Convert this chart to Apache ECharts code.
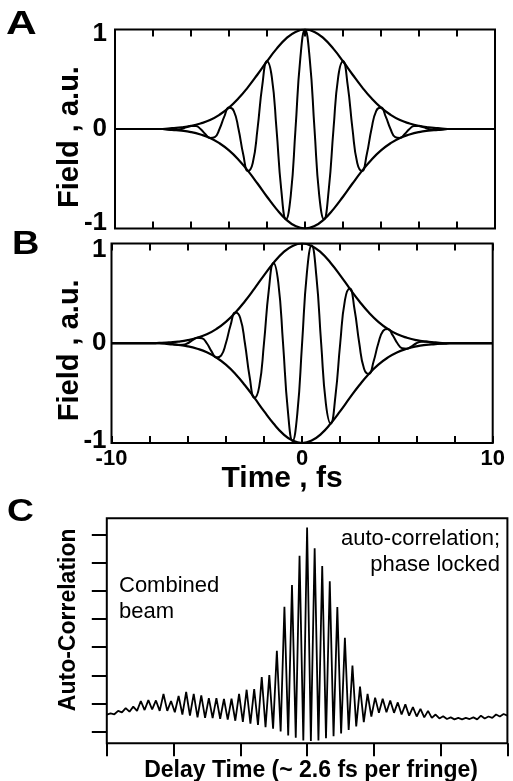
<!DOCTYPE html>
<html><head><meta charset="utf-8">
<script src="https://cdn.jsdelivr.net/npm/echarts@6/dist/echarts.min.js"></script>
<style>html,body{margin:0;padding:0;background:#fff}#c{width:513px;height:781px}</style>
</head><body><div id="c"></div>
<script>
// ---- data ----
// sample grid of the field traces (fs)
const timeStart = -10, timeStep = 0.25, envStep = 0.5;
// Gaussian envelope |E| sampled every 0.5 fs from -10 to 10
const envelope = [0,0,0,0,0,0,0.009,0.017,0.031,0.055,0.090,0.143,0.215,0.308,0.421,0.548,0.681,0.805,0.908,0.976,
  1,
  0.976,0.908,0.805,0.681,0.548,0.421,0.308,0.215,0.143,0.090,0.055,0.031,0.017,0.009,0,0,0,0,0,0];
// Panel A field (cosine-like pulse), every 0.25 fs from -10 to 10
const fieldA = [0,0,0,0,0,0,0,0,0,0,
  0,-0.004,-0.009,-0.009,0,0.016,0.031,0.030,0,-0.050,-0.090,-0.081,0,0.124,0.215,0.183,0,-0.256,-0.421,-0.341,
  0,0.435,0.681,0.527,0,-0.609,-0.908,-0.670,0,0.703,
  1,
  0.703,0,-0.670,-0.908,-0.609,0,0.527,0.681,0.435,0,
  -0.341,-0.421,-0.256,0,0.183,0.215,0.124,0,-0.081,-0.090,-0.050,0,0.030,0.031,0.016,0,-0.009,-0.009,-0.004,0,
  0,0,0,0,0,0,0,0,0,0];
// Panel B field (sine-like pulse), every 0.25 fs from -10 to 10
const fieldB = [0,0,0,0,0,0,0,0,0,0,
  0.004,0.004,0,-0.009,-0.017,-0.016,0,0.030,0.055,0.050,0,-0.081,-0.143,-0.124,0,0.183,0.308,0.256,0,-0.341,
  -0.548,-0.435,0,0.527,0.805,0.609,0,-0.670,-0.98,-0.703,
  0,
  0.703,0.98,0.670,0,-0.609,-0.805,-0.527,0,0.435,0.548,
  0.341,0,-0.256,-0.308,-0.183,0,0.124,0.143,0.081,0,-0.050,-0.055,-0.030,0,0.016,0.017,0.009,0,-0.004,-0.004,
  0,0,0,0,0,0,0,0,0,0];
// Panel C: fringe maxima (53) and minima (54), in tick units, left to right
const fringePeaks = [0.66,0.75,0.85,0.9,1.1,1.13,1.12,1.35,1.1,1.28,1.42,1.35,1.3,1.2,1.2,1.17,1.18,1.35,1.5,1.52,
  1.95,2.02,2.88,4.44,5.21,6.25,
  7.25,
  6.52,5.89,5.35,4.43,3.34,2.36,1.61,1.35,1.22,1.18,1.12,1.05,0.98,0.88,0.82,0.75,0.62,0.56,0.52,0.5,0.5,0.52,0.58,0.55,0.62,0.64];
const fringeTroughs = [0.62,0.63,0.7,0.72,0.75,0.78,0.8,0.75,0.75,0.7,0.62,0.58,0.52,0.5,0.49,0.47,0.44,0.4,0.36,0.3,
  0.25,0.17,0.12,0.02,-0.12,-0.2,-0.3,
  -0.32,-0.3,-0.22,-0.15,-0.05,0.07,0.2,0.35,0.55,0.68,0.7,0.68,0.62,0.58,0.55,0.52,0.5,0.48,0.46,0.45,0.45,0.46,0.45,0.48,0.5,0.55,0.58];
const fieldTicks = [-1, 0, 1];
const timeTickLabels = [-10, 0, 10];
const panelLetters = ['A', 'B', 'C'];

// ---- build ----
const fieldAData = fieldA.map((v, i) => [timeStart + i * timeStep, v]);
const fieldBData = fieldB.map((v, i) => [timeStart + i * timeStep, v]);
const envUp = envelope.map((v, i) => [timeStart + i * envStep, v]);
const envDn = envelope.map((v, i) => [timeStart + i * envStep, -v]);
const corr = [];
for (let i = 0; i < fringeTroughs.length; i++) {
  corr.push(fringeTroughs[i]);
  if (i < fringePeaks.length) corr.push(fringePeaks[i]);
}
const corrIdx = corr.map((_, i) => i);

const FF = '"Liberation Sans", Arial, Helvetica, sans-serif';
const K = '#000';
const boldLab = (s) => ({ fontFamily: FF, fontWeight: 'bold', fontSize: s, color: K });

function tickAxis(grid, pos, showLab) {
  return {
    type: 'value', gridIndex: grid, position: pos, min: -10, max: 10, interval: 2,
    axisLine: { show: false, onZero: false }, splitLine: { show: false },
    axisTick: { show: true, inside: true, length: 7, lineStyle: { color: K, width: 2 } },
    axisLabel: showLab ? {
      show: true, margin: 5, ...boldLab(22),
      formatter: (v) => timeTickLabels.includes(v) ? String(v) : ''
    } : { show: false }
  };
}
// shift (px) of the top / bottom value labels toward the inside of the frame
function fieldY(grid, gap, margin, namePad, topShift, botShift) {
  return {
    type: 'value', gridIndex: grid, min: fieldTicks[0], max: fieldTicks[2], interval: 1,
    axisLine: { show: false, onZero: false }, axisTick: { show: false }, splitLine: { show: false },
    axisLabel: {
      show: true, margin: margin, ...boldLab(26),
      formatter: (v) => v === fieldTicks[2] ? '{t|' + v + '}' : (v === fieldTicks[0] ? '{b|' + v + '}' : '{m|' + v + '}'),
      rich: {
        t: { ...boldLab(26), padding: [topShift * 2, 0, 0, 0] },
        m: { ...boldLab(26) },
        b: { ...boldLab(26), padding: [0, 0, botShift * 2, 0] }
      }
    },
    name: 'Field , a.u.', nameLocation: 'middle', nameGap: gap, nameMoveOverlap: false,
    nameTextStyle: { ...boldLab(29), padding: namePad }
  };
}
const lineS = (x, y, data, w, smooth) => ({
  type: 'line', xAxisIndex: x, yAxisIndex: y, data: data, showSymbol: false, symbol: 'none',
  smooth: smooth, lineStyle: { color: K, width: w }, silent: true, z: 3
});

const option = {
  animation: false,
  backgroundColor: '#fff',
  textStyle: { fontFamily: FF },
  grid: [
    { left: 115, top: 29.5, width: 380, height: 199, show: true, borderColor: K, borderWidth: 2, backgroundColor: 'transparent', outerBoundsMode: 'none', containLabel: false },
    { left: 111.5, top: 243.5, width: 381.2, height: 199.5, show: true, borderColor: K, borderWidth: 2, backgroundColor: 'transparent', outerBoundsMode: 'none', containLabel: false },
    { left: 106.8, top: 518.3, width: 400.6, height: 225, show: true, borderColor: K, borderWidth: 2, backgroundColor: 'transparent', outerBoundsMode: 'none', containLabel: false },
    { left: 106.8, top: 534.3, width: 400.6, height: 197.4, show: false, outerBoundsMode: 'none', containLabel: false }
  ],
  xAxis: [
    tickAxis(0, 'bottom', false),
    tickAxis(0, 'top', false),
    Object.assign(tickAxis(1, 'bottom', true), {
      name: 'Time , fs', nameLocation: 'middle', nameGap: 21, nameMoveOverlap: false,
      nameTextStyle: { ...boldLab(30), padding: [0, 40, 0, 0] }
    }),
    tickAxis(1, 'top', false),
    {
      type: 'value', gridIndex: 2, position: 'bottom', min: 0, max: 6, interval: 1,
      axisLine: { show: false, onZero: false }, splitLine: { show: false },
      axisTick: { show: true, inside: false, length: 13, lineStyle: { color: K, width: 2 } },
      axisLabel: { show: false },
      name: 'Delay Time (~ 2.6 fs per fringe)', nameLocation: 'middle', nameGap: 16, nameMoveOverlap: false,
      nameTextStyle: { ...boldLab(23), padding: [0, 0, 0, 8] }
    },
    { type: 'category', gridIndex: 2, data: corrIdx, boundaryGap: false, show: false, axisLine: { onZero: false } },
    { type: 'value', gridIndex: 3, min: 0, max: 1, show: false, axisLine: { onZero: false } }
  ],
  yAxis: [
    fieldY(0, 30.5, 8, [0, 16, 0, 0], 4, 6),
    fieldY(1, 27, 5, [0, 14, 0, 0], 6, 2),
    {
      type: 'value', gridIndex: 2, min: -0.4, max: 7.58,
      axisLine: { show: false, onZero: false }, axisTick: { show: false }, axisLabel: { show: false }, splitLine: { show: false },
      name: 'Auto-Correlation', nameLocation: 'middle', nameGap: 26.3, nameMoveOverlap: false,
      nameTextStyle: { ...boldLab(23), padding: [0, 0, 0, 22] }
    },
    {
      type: 'value', gridIndex: 3, min: 0, max: 7, interval: 1,
      axisLine: { show: false, onZero: false }, splitLine: { show: false }, axisLabel: { show: false },
      axisTick: { show: true, inside: false, length: 15, lineStyle: { color: K, width: 2 } }
    }
  ],
  series: [
    lineS(0, 0, envUp, 2.2, true),
    lineS(0, 0, envDn, 2.2, true),
    lineS(0, 0, fieldAData, 2, true),
    lineS(2, 1, envUp, 2.2, true),
    lineS(2, 1, envDn, 2.2, true),
    lineS(2, 1, fieldBData, 2, true),
    lineS(5, 2, corr, 1.8, false)
  ],
  graphic: [
    { type: 'text', x: 6, y: 24.5, scaleX: 1.25, style: { text: panelLetters[0], fill: K, font: 'bold 34px ' + FF, verticalAlign: 'middle' } },
    { type: 'text', x: 12, y: 245, scaleX: 1.15, style: { text: panelLetters[1], fill: K, font: 'bold 33px ' + FF, verticalAlign: 'middle' } },
    { type: 'text', x: 7, y: 512.5, scaleX: 1.2, style: { text: panelLetters[2], fill: K, font: 'bold 31px ' + FF, verticalAlign: 'middle' } },
    { type: 'text', x: 119, y: 572.7, style: { text: 'Combined\nbeam', fill: K, font: '22px ' + FF, lineHeight: 26, verticalAlign: 'top' } },
    { type: 'text', x: 500, y: 526, style: { text: 'auto-correlation;\nphase locked', fill: K, font: '22px ' + FF, lineHeight: 26, align: 'right', verticalAlign: 'top' } }
  ]
};
const chart = echarts.init(document.getElementById('c'), null, { renderer: 'canvas' });
chart.setOption(option);
</script>
</body></html>
